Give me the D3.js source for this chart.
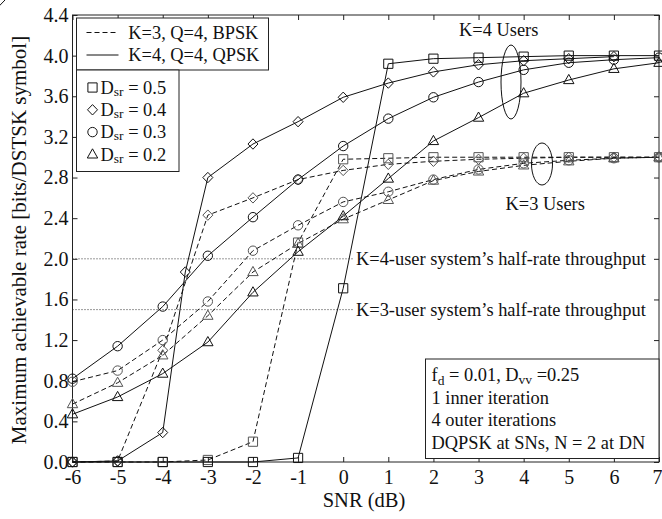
<!DOCTYPE html>
<html>
<head>
<meta charset="utf-8">
<script src="https://cdn.jsdelivr.net/npm/d3@7"></script>
<style>
  body { margin: 0; background: #fff; }
  svg { font-family: "Liberation Serif", "Times New Roman", serif; }
</style>
</head>
<body>
<script>
// Maximum achievable rate vs SNR, K=3 (dashed) and K=4 (solid) users

const snrDb = [-6, -5, -4, -3, -2, -1, 0, 1, 2, 3, 4, 5, 6, 7];
const snrDbK4Dsr04 = [-6, -5, -4, -3.5, -3, -2, -1, 0, 1, 2, 3, 4, 5, 6, 7];

// K=3, Q=4, BPSK
const k3Dsr05 = [0, 0, 0, 0.02, 0.2, 2.16, 2.98, 2.99, 3.0, 3.0, 3.0, 3.0, 3.0, 3.0];
const k3Dsr04 = [0, 0.01, 1.1, 2.43, 2.6, 2.78, 2.87, 2.93, 2.96, 2.98, 2.99, 3.0, 3.0, 3.0];
const k3Dsr03 = [0.79, 0.9, 1.2, 1.58, 2.08, 2.33, 2.56, 2.66, 2.78, 2.88, 2.94, 2.97, 2.99, 3.0];
const k3Dsr02 = [0.57, 0.78, 1.05, 1.44, 1.87, 2.15, 2.39, 2.58, 2.77, 2.86, 2.92, 2.96, 2.99, 3.0];

// K=4, Q=4, QPSK
const k4Dsr05 = [0, 0, 0, 0, 0, 0.04, 1.71, 3.92, 3.97, 3.98, 3.99, 4.0, 4.0, 4.0];
const k4Dsr04 = [0, 0.01, 0.29, 1.87, 2.8, 3.13, 3.35, 3.59, 3.73, 3.84, 3.91, 3.95, 3.97, 3.99];
const k4Dsr03 = [0.82, 1.14, 1.53, 2.03, 2.41, 2.78, 3.11, 3.38, 3.59, 3.74, 3.86, 3.93, 3.96, 3.98];
const k4Dsr02 = [0.47, 0.64, 0.87, 1.18, 1.67, 2.07, 2.42, 2.79, 3.16, 3.39, 3.63, 3.76, 3.87, 3.93];

const yTicks = [0, 0.4, 0.8, 1.2, 1.6, 2.0, 2.4, 2.8, 3.2, 3.6, 4.0, 4.4];
const xTicks = [-6, -5, -4, -3, -2, -1, 0, 1, 2, 3, 4, 5, 6, 7];
const dsrLabels = ["0.5", "0.4", "0.3", "0.2"];
const shapes = ["square", "diamond", "circle", "triangle"];
const halfRate = [{k: 4, rate: 2.0}, {k: 3, rate: 1.5}];

const outerWidth = 662;
const outerHeight = 519;
const plot = {left: 72.5, right: 659, top: 15, bottom: 462};

const svg = d3.select("body").append("svg")
              .attr("width", outerWidth)
              .attr("height", outerHeight);

const x = d3.scaleLinear().domain([-6, 7]).range([plot.left, plot.right]);
const y = d3.scaleLinear().domain([0, 4.4]).range([plot.bottom, plot.top]);

// marker shapes, drawn around (0,0)
function markerPath(shape) {
  if (shape === "square") return "M-4.6,-4.6H4.6V4.6H-4.6Z";
  if (shape === "diamond") return "M0,-5.2L5,0L0,5.2L-5,0Z";
  if (shape === "triangle") return "M0,-5.6L5.2,3.6H-5.2Z";
  return d3.arc()({innerRadius: 0, outerRadius: 4.7, startAngle: 0, endAngle: 2 * Math.PI});
}

// axes: ticks point inwards on all four sides
const fontTick = 20;
svg.append("g")
   .attr("transform", "translate(0," + plot.bottom + ")")
   .call(d3.axisBottom(x).tickValues(xTicks).tickSize(-5).tickSizeOuter(0)
           .tickPadding(8).tickFormat(d => String(d)))
   .call(g => g.select(".domain").remove())
   .selectAll("text").attr("font-size", fontTick).attr("font-family", "Liberation Serif").attr("fill", "#111")
   .attr("dx", d => d === 7 ? -2 : 0);

svg.append("g")
   .attr("transform", "translate(0," + plot.top + ")")
   .call(d3.axisTop(x).tickValues(xTicks).tickSize(-5).tickSizeOuter(0).tickFormat(""))
   .call(g => g.select(".domain").remove());

svg.append("g")
   .attr("transform", "translate(" + plot.left + ",0)")
   .call(d3.axisLeft(y).tickValues(yTicks).tickSize(-5).tickSizeOuter(0)
           .tickPadding(4).tickFormat(d3.format(".1f")))
   .call(g => g.select(".domain").remove())
   .selectAll("text").attr("font-size", fontTick).attr("font-family", "Liberation Serif").attr("fill", "#111");

svg.append("g")
   .attr("transform", "translate(" + plot.right + ",0)")
   .call(d3.axisRight(y).tickValues(yTicks).tickSize(-5).tickSizeOuter(0).tickFormat(""))
   .call(g => g.select(".domain").remove());

svg.selectAll(".tick line").attr("stroke", "#222");

svg.append("rect")
   .attr("x", plot.left).attr("y", plot.top)
   .attr("width", plot.right - plot.left).attr("height", plot.bottom - plot.top)
   .attr("fill", "none").attr("stroke", "#222").attr("stroke-width", 1);

// axis titles
svg.append("text")
   .attr("x", 364).attr("y", 507)
   .attr("text-anchor", "middle").attr("font-size", 20.5).attr("fill", "#111")
   .text("SNR (dB)");

svg.append("text")
   .attr("transform", "translate(26,240) rotate(-90)")
   .attr("text-anchor", "middle").attr("font-size", 21).attr("fill", "#111")
   .text("Maximum achievable rate [bits/DSTSK symbol]");

// half-rate throughput reference lines
const hr = svg.append("g");
hr.selectAll("line").data(halfRate).enter().append("line")
  .attr("x1", plot.left).attr("x2", 353)
  .attr("y1", d => y(d.rate)).attr("y2", d => y(d.rate))
  .attr("stroke", "#333").attr("stroke-width", 1).attr("stroke-dasharray", "1,2");
hr.selectAll("text").data(halfRate).enter().append("text")
  .attr("x", 356).attr("y", d => y(d.rate) + 6)
  .attr("font-size", 18.4).attr("fill", "#111")
  .text(d => "K=" + d.k + "-user system\u2019s half-rate throughput");

// series
const series = [
  {xs: snrDb, ys: k3Dsr05, k: 3, shape: "square"},
  {xs: snrDb, ys: k3Dsr04, k: 3, shape: "diamond"},
  {xs: snrDb, ys: k3Dsr03, k: 3, shape: "circle"},
  {xs: snrDb, ys: k3Dsr02, k: 3, shape: "triangle"},
  {xs: snrDb, ys: k4Dsr05, k: 4, shape: "square"},
  {xs: snrDbK4Dsr04, ys: k4Dsr04, k: 4, shape: "diamond"},
  {xs: snrDb, ys: k4Dsr03, k: 4, shape: "circle"},
  {xs: snrDb, ys: k4Dsr02, k: 4, shape: "triangle"}
];

const line = d3.line().x(d => x(d[0])).y(d => y(d[1]));

const curves = svg.append("g");
series.forEach(s => {
  const pts = s.xs.map((v, i) => [v, s.ys[i]]);
  curves.append("path")
        .attr("d", line(pts))
        .attr("fill", "none")
        .attr("stroke", "#111")
        .attr("stroke-width", 1)
        .attr("stroke-dasharray", s.k === 3 ? "5,3" : null);
});
series.forEach(s => {
  const pts = s.xs.map((v, i) => [v, s.ys[i]]);
  curves.append("g").selectAll("path").data(pts).enter().append("path")
        .attr("transform", d => "translate(" + x(d[0]) + "," + y(d[1]) + ")")
        .attr("d", markerPath(s.shape))
        .attr("fill", "none")
        .attr("stroke", s.k === 3 ? "#555" : "#111")
        .attr("stroke-width", 1);
});

// group ellipses and labels
svg.append("ellipse").attr("cx", 511).attr("cy", 82).attr("rx", 10).attr("ry", 37)
   .attr("fill", "none").attr("stroke", "#111");
svg.append("ellipse").attr("cx", 542).attr("cy", 164).attr("rx", 10.5).attr("ry", 21)
   .attr("fill", "none").attr("stroke", "#111");
svg.append("text").attr("x", 459).attr("y", 36).attr("font-size", 18.4).attr("fill", "#111").text("K=4 Users");
svg.append("text").attr("x", 505.5).attr("y", 210).attr("font-size", 18.4).attr("fill", "#111").text("K=3 Users");

// legend: line styles
const leg1 = svg.append("g");
leg1.append("rect").attr("x", 76.5).attr("y", 18).attr("width", 192).attr("height", 52)
    .attr("fill", "#fff").attr("stroke", "#222");
[{label: "K=3, Q=4, BPSK", dash: "5,3", cy: 32.5},
 {label: "K=4, Q=4, QPSK", dash: null, cy: 55}].forEach(d => {
  leg1.append("line").attr("x1", 86.5).attr("x2", 118.5).attr("y1", d.cy).attr("y2", d.cy)
      .attr("stroke", "#111").attr("stroke-dasharray", d.dash);
  leg1.append("text").attr("x", 128.3).attr("y", d.cy + 6.2)
      .attr("font-size", 18.4).attr("fill", "#111").text(d.label);
});

// legend: markers
const leg2 = svg.append("g");
leg2.append("rect").attr("x", 76.5).attr("y", 70).attr("width", 102.5).attr("height", 101.5)
    .attr("fill", "#fff").attr("stroke", "#222");
dsrLabels.forEach((lab, i) => {
  const cy = 87.5 + i * 22.3;
  leg2.append("path").attr("transform", "translate(92.5," + cy + ")")
      .attr("d", markerPath(shapes[i])).attr("fill", "none").attr("stroke", "#111");
  const t = leg2.append("text").attr("x", 100.5).attr("y", cy + 6.2)
                .attr("font-size", 18.4).attr("fill", "#111");
  t.append("tspan").text("D");
  t.append("tspan").attr("font-size", 13.5).attr("dy", 2).text("sr");
  t.append("tspan").attr("dy", -2).text(" = " + lab);
});

// info box
const info = svg.append("g");
info.append("rect").attr("x", 425.5).attr("y", 359).attr("width", 233.5).attr("height", 99.5)
    .attr("fill", "#fff").attr("stroke", "#222");
const t0 = info.append("text").attr("x", 431.5).attr("y", 381).attr("font-size", 18.4).attr("fill", "#111");
t0.append("tspan").text("f");
t0.append("tspan").attr("font-size", 13.5).attr("dy", 4).text("d");
t0.append("tspan").attr("dy", -4).text(" = 0.01, D");
t0.append("tspan").attr("font-size", 13.5).attr("dy", 3).text("vv");
t0.append("tspan").attr("dy", -3).text(" =0.25");
["1 inner iteration", "4 outer iterations", "DQPSK at SNs, N = 2 at DN"].forEach((s, i) => {
  info.append("text").attr("x", 431.5).attr("y", 404 + i * 22.3)
      .attr("font-size", 18.4).attr("fill", "#111").text(s);
});
</script>
</body>
</html>
